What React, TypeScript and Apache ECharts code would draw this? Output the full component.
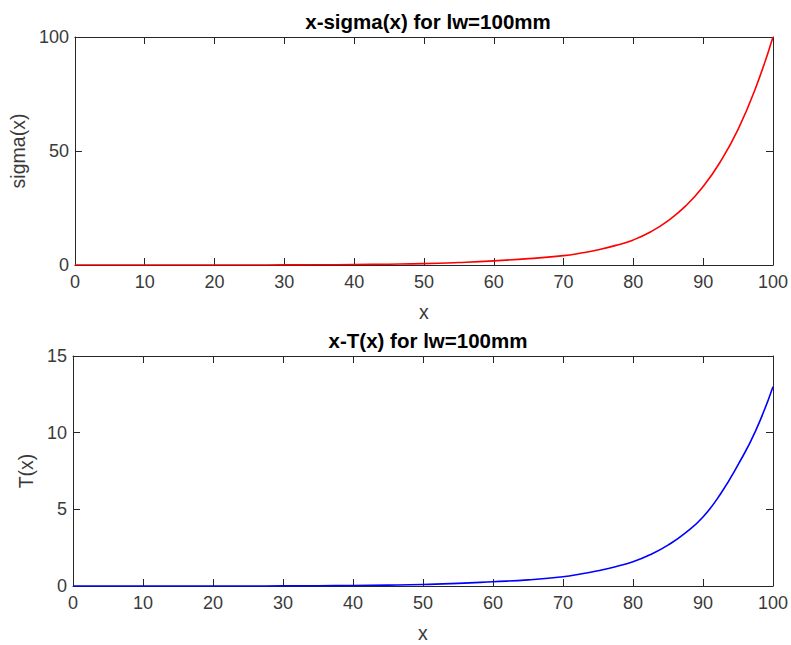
import React, { useEffect, useRef } from "react";
import * as echarts from "echarts";

const xValues = [0, 5, 10, 15, 20, 25, 30, 35, 40, 45, 50, 55, 60, 65, 70, 72.5, 75, 77.5, 80, 82.5, 85, 87.5, 90, 92.5, 95, 97.5, 100];
const sigmaValues = [0.002, 0.004, 0.006, 0.01, 0.016, 0.025, 0.04, 0.1, 0.2, 0.35, 0.6, 1.1, 1.8, 2.8, 4.1, 5.25, 6.7, 8.6, 11, 14.6, 19.5, 25.9, 34.4, 45.5, 59.5, 77.5, 100];
const tValues = [0.0003, 0.0005, 0.0008, 0.0013, 0.002, 0.003, 0.005, 0.012, 0.035, 0.06, 0.1, 0.17, 0.28, 0.4, 0.6, 0.78, 1.0, 1.26, 1.58, 2.05, 2.67, 3.46, 4.5, 6.0, 7.9, 10.1, 13];
const xTicks = { min: 0, max: 100, interval: 10 };
const sigmaTicks = { min: 0, max: 100, interval: 50 };
const tTicks = { min: 0, max: 15, interval: 5 };
const titles = ["x-sigma(x) for lw=100mm", "x-T(x) for lw=100mm"];
const yNames = ["sigma(x)", "T(x)"];

const FONT = "Liberation Sans, Arial, sans-serif";
const AX = "#262626";
const LBL = "#3a3a3a";

export default function App() {
  const ref = useRef<HTMLDivElement>(null);
  useEffect(() => {
    if (!ref.current) return;
    const chart = echarts.init(ref.current, null, { renderer: "svg" });
    const grids = [
      { left: 73, right: 18, top: 37, height: 228 },
      { left: 73, right: 18, top: 356, height: 230 },
    ];
    const tick = { show: true, inside: true, length: 7, lineStyle: { color: AX, width: 1 } };
    const line = { show: true, onZero: false, lineStyle: { color: AX, width: 1 } };
    const xAxis: any[] = [];
    const yAxis: any[] = [];
    [0, 1].forEach((g) => {
      xAxis.push({
        type: "value", gridIndex: g, ...xTicks, position: "bottom",
        axisLine: line, axisTick: tick, splitLine: { show: false },
        axisLabel: { color: LBL, fontSize: 18, fontFamily: FONT, margin: 8 },
        name: "x", nameLocation: "middle", nameGap: 37,
        nameTextStyle: { color: LBL, fontSize: 19.5, fontFamily: FONT },
      });
      xAxis.push({
        type: "value", gridIndex: g, ...xTicks, position: "top",
        axisLine: line, axisTick: tick, splitLine: { show: false },
        axisLabel: { show: false },
      });
      const yt = g === 0 ? sigmaTicks : tTicks;
      yAxis.push({
        type: "value", gridIndex: g, ...yt, position: "left",
        axisLine: line, axisTick: tick, splitLine: { show: false },
        axisLabel: { color: LBL, fontSize: 18, fontFamily: FONT, margin: 6 },
        name: yNames[g], nameLocation: "middle", nameGap: g === 0 ? 41 : 29,
        nameTextStyle: { color: LBL, fontSize: 19.5, fontFamily: FONT },
      });
      yAxis.push({
        type: "value", gridIndex: g, ...yt, position: "right",
        axisLine: line, axisTick: tick, splitLine: { show: false },
        axisLabel: { show: false },
      });
    });
    chart.setOption({
      animation: false,
      backgroundColor: "#ffffff",
      title: [
        { text: titles[0], left: 423, top: 6, textAlign: "center",
          textStyle: { color: "#000", fontSize: 20.5, fontWeight: "bold", fontFamily: FONT } },
        { text: titles[1], left: 423, top: 325, textAlign: "center",
          textStyle: { color: "#000", fontSize: 20.5, fontWeight: "bold", fontFamily: FONT } },
      ],
      grid: grids,
      xAxis,
      yAxis,
      series: [
        {
          type: "line", xAxisIndex: 0, yAxisIndex: 0, showSymbol: false, smooth: 0.5,
          lineStyle: { color: "#ff0000", width: 1.6 },
          data: xValues.map((x, i) => [x, sigmaValues[i]]),
        },
        {
          type: "line", xAxisIndex: 2, yAxisIndex: 2, showSymbol: false, smooth: 0.5,
          lineStyle: { color: "#0000ff", width: 1.6 },
          data: xValues.map((x, i) => [x, tValues[i]]),
        },
      ],
    });
    return () => chart.dispose();
  }, []);
  return <div ref={ref} style={{ width: 791, height: 645, position: "absolute", left: 0, top: 0 }} />;
}
